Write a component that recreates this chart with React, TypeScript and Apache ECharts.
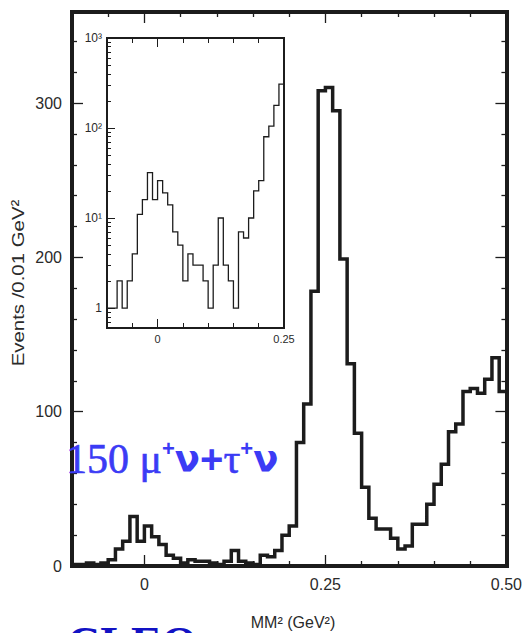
import React, { useEffect, useRef } from "react";
import * as echarts from "echarts";

// Bin lower/upper edges of MM² (GeV²), 0.01 GeV² wide
const BIN_EDGES = [
  -0.1, -0.09, -0.08, -0.07, -0.06, -0.05, -0.04, -0.03, -0.02, -0.01,
  0.0, 0.01, 0.02, 0.03, 0.04, 0.05, 0.06, 0.07, 0.08, 0.09,
  0.1, 0.11, 0.12, 0.13, 0.14, 0.15, 0.16, 0.17, 0.18, 0.19,
  0.2, 0.21, 0.22, 0.23, 0.24, 0.25, 0.26, 0.27, 0.28, 0.29,
  0.3, 0.31, 0.32, 0.33, 0.34, 0.35, 0.36, 0.37, 0.38, 0.39,
  0.4, 0.41, 0.42, 0.43, 0.44, 0.45, 0.46, 0.47, 0.48, 0.49,
  0.5,
];

// Events per bin
const COUNTS = [
  1, 1, 2, 1, 2, 4, 11, 16, 32, 16,
  26, 19, 14, 7, 5, 2, 4, 3, 3, 2,
  1, 3, 10, 3, 2, 1, 7, 6, 10, 20,
  26, 80, 105, 178, 308, 310, 295, 199, 131, 86,
  51, 31, 24, 24, 18, 11, 13, 27, 27, 40,
  53, 66, 87, 92, 113, 115, 112, 121, 135, 113,
];

const INSET_MAX_EDGE = 0.25;

const MAIN_X_MAJOR = [0, 0.25, 0.5];
const MAIN_X_LABELS = ["0", "0.25", "0.50"];
const MAIN_X_MINOR = [-0.05, 0.05, 0.1, 0.15, 0.2, 0.3, 0.35, 0.4, 0.45];
const MAIN_Y_MAJOR = [0, 100, 200, 300];
const MAIN_Y_LABELS = ["0", "100", "200", "300"];
const MAIN_Y_MINOR = [20, 40, 60, 80, 120, 140, 160, 180, 220, 240, 260, 280, 320, 340];

const INSET_X_MAJOR = [0, 0.25];
const INSET_X_LABELS = ["0", "0.25"];
const INSET_X_MINOR = [-0.05, 0.05, 0.1, 0.15, 0.2];
const INSET_Y_MAJOR = [1, 10, 100, 1000];
const INSET_Y_LABELS = ["1", "10¹", "10²", "10³"];
const INSET_Y_MINOR = [
  0.7, 0.8, 0.9, 2, 3, 4, 5, 6, 7, 8, 9, 20, 30, 40, 50, 60, 70, 80, 90,
  200, 300, 400, 500, 600, 700, 800, 900,
];

const INK = "#1c1c1c";
const LABEL = "#2a2a2a";
const BLUE = "#3b3bf5";
const SANS = "Liberation Sans";
const SERIF = "Liberation Serif";

function labelFor(values: number[], labels: string[]) {
  return (v: number) => {
    const i = values.findIndex(
      (x) => Math.abs(x - v) <= 1e-6 * Math.max(1, Math.abs(x))
    );
    return i >= 0 ? labels[i] : "";
  };
}

function makeAxis(o: any) {
  return {
    type: o.type || "value",
    gridIndex: o.grid,
    position: o.position,
    min: o.min,
    max: o.max,
    axisLine: {
      show: !!o.lineWidth,
      onZero: false,
      lineStyle: { color: INK, width: o.lineWidth || 1, cap: "square" },
    },
    axisTick: {
      show: !!o.ticks,
      inside: true,
      length: o.tickLength || 5,
      customValues: o.ticks,
      lineStyle: { color: INK, width: o.tickWidth || 1.3 },
    },
    axisLabel: o.labels
      ? {
          show: true,
          customValues: o.labelValues,
          formatter: labelFor(o.labelValues, o.labels),
          margin: o.margin ?? 8,
          fontSize: o.fontSize || 16,
          fontFamily: SANS,
          color: LABEL,
        }
      : { show: false },
    splitLine: { show: false },
    minorTick: { show: false },
    minorSplitLine: { show: false },
  };
}

export default function App() {
  const ref = useRef<HTMLDivElement>(null);

  useEffect(() => {
    if (!ref.current) return;
    const chart = echarts.init(ref.current, null, { renderer: "svg" });

    const mainPts: number[][] = COUNTS.map((c, i) => [BIN_EDGES[i], c]);
    mainPts.push([BIN_EDGES[COUNTS.length], COUNTS[COUNTS.length - 1]]);

    const nInset = BIN_EDGES.findIndex((e) => e >= INSET_MAX_EDGE - 1e-9);
    const insetPts: number[][] = COUNTS.slice(0, nInset).map((c, i) => [
      BIN_EDGES[i],
      c,
    ]);
    insetPts.push([BIN_EDGES[nInset], COUNTS[nInset - 1]]);

    const xMin = BIN_EDGES[0];
    const xMax = BIN_EDGES[BIN_EDGES.length - 1];

    const option: any = {
      animation: false,
      backgroundColor: "#ffffff",
      textStyle: { fontFamily: SANS },
      grid: [
        { left: 72, top: 12, width: 435, height: 554, containLabel: false },
        { left: 107, top: 38, width: 177, height: 290, containLabel: false },
      ],
      xAxis: [
        makeAxis({ grid: 0, position: "bottom", min: xMin, max: xMax, lineWidth: 4, ticks: MAIN_X_MAJOR, tickLength: 11, labels: MAIN_X_LABELS, labelValues: MAIN_X_MAJOR, margin: 10, fontSize: 16 }),
        makeAxis({ grid: 0, position: "bottom", min: xMin, max: xMax, ticks: MAIN_X_MINOR, tickLength: 5 }),
        makeAxis({ grid: 0, position: "top", min: xMin, max: xMax, lineWidth: 4, ticks: MAIN_X_MAJOR, tickLength: 11 }),
        makeAxis({ grid: 0, position: "top", min: xMin, max: xMax, ticks: MAIN_X_MINOR, tickLength: 5 }),
        makeAxis({ grid: 1, position: "bottom", min: xMin, max: INSET_MAX_EDGE, lineWidth: 2, ticks: INSET_X_MAJOR, tickLength: 9, tickWidth: 1, labels: INSET_X_LABELS, labelValues: INSET_X_MAJOR, margin: 5, fontSize: 11 }),
        makeAxis({ grid: 1, position: "bottom", min: xMin, max: INSET_MAX_EDGE, ticks: INSET_X_MINOR, tickLength: 5, tickWidth: 1 }),
        makeAxis({ grid: 1, position: "top", min: xMin, max: INSET_MAX_EDGE, lineWidth: 2, ticks: INSET_X_MAJOR, tickLength: 9, tickWidth: 1 }),
        makeAxis({ grid: 1, position: "top", min: xMin, max: INSET_MAX_EDGE, ticks: INSET_X_MINOR, tickLength: 5, tickWidth: 1 }),
      ],
      yAxis: [
        makeAxis({ grid: 0, position: "left", min: 0, max: 359, lineWidth: 4, ticks: MAIN_Y_MAJOR, tickLength: 11, labels: MAIN_Y_LABELS, labelValues: MAIN_Y_MAJOR, margin: 10, fontSize: 16 }),
        makeAxis({ grid: 0, position: "left", min: 0, max: 359, ticks: MAIN_Y_MINOR, tickLength: 5 }),
        makeAxis({ grid: 0, position: "right", min: 0, max: 359, lineWidth: 4, ticks: MAIN_Y_MAJOR, tickLength: 11 }),
        makeAxis({ grid: 0, position: "right", min: 0, max: 359, ticks: MAIN_Y_MINOR, tickLength: 5 }),
        makeAxis({ type: "log", grid: 1, position: "left", min: 0.6, max: 1000, lineWidth: 2, ticks: INSET_Y_MAJOR, tickLength: 8, tickWidth: 1, labels: INSET_Y_LABELS, labelValues: INSET_Y_MAJOR, margin: 5, fontSize: 12 }),
        makeAxis({ type: "log", grid: 1, position: "left", min: 0.6, max: 1000, ticks: INSET_Y_MINOR, tickLength: 4, tickWidth: 1 }),
        makeAxis({ type: "log", grid: 1, position: "right", min: 0.6, max: 1000, lineWidth: 2 }),
      ],
      series: [
        {
          type: "line",
          xAxisIndex: 0,
          yAxisIndex: 0,
          step: "end",
          symbol: "none",
          data: mainPts,
          lineStyle: { color: INK, width: 3.5, join: "miter" },
          z: 3,
        },
        {
          type: "line",
          xAxisIndex: 4,
          yAxisIndex: 4,
          step: "end",
          symbol: "none",
          data: insetPts,
          lineStyle: { color: INK, width: 1.3, join: "miter" },
          z: 3,
        },
      ],
      graphic: [
        {
          type: "text",
          x: 18,
          y: 283,
          rotation: Math.PI / 2,
          scaleX: 1.2,
          style: {
            text: "Events /0.01 GeV²",
            fontSize: 17,
            fontFamily: SANS,
            fill: LABEL,
            align: "center",
            verticalAlign: "middle",
            textAlign: "center",
            textVerticalAlign: "middle",
          },
        },
        {
          type: "text",
          x: 293,
          y: 622,
          style: {
            text: "MM² (GeV²)",
            fontSize: 16,
            fontFamily: SANS,
            fill: LABEL,
            align: "center",
            verticalAlign: "middle",
            textAlign: "center",
            textVerticalAlign: "middle",
          },
        },
        {
          type: "text",
          x: 66,
          y: 437,
          z: 10,
          style: {
            text: "{n|150 μ}{p|+}{v|ν}{b|+}{t|τ}{p|+}{v|ν}",
            align: "left",
            verticalAlign: "top",
            textAlign: "left",
            textVerticalAlign: "top",
            fill: BLUE,
            rich: {
              n: { fontFamily: SERIF, fontSize: 42, lineHeight: 44, fill: BLUE, verticalAlign: "middle", stroke: BLUE, lineWidth: 0.6 },
              t: { fontFamily: SERIF, fontSize: 42, lineHeight: 44, fill: BLUE, verticalAlign: "middle", stroke: BLUE, lineWidth: 0.6 },
              v: { fontFamily: "DejaVu Sans", fontWeight: "bold", fontSize: 37, lineHeight: 44, fill: BLUE, verticalAlign: "middle" },
              b: { fontFamily: SANS, fontWeight: "bold", fontSize: 40, lineHeight: 44, fill: BLUE, verticalAlign: "middle" },
              p: { fontFamily: SANS, fontWeight: "bold", fontSize: 22, lineHeight: 38, fill: BLUE, verticalAlign: "top" },
            },
          },
        },
        {
          type: "text",
          x: 67,
          y: 620,
          style: {
            text: "CLEO",
            fontSize: 46,
            fontWeight: "bold",
            fontFamily: SERIF,
            fill: "#1212c4",
            align: "left",
            verticalAlign: "top",
            textAlign: "left",
            textVerticalAlign: "top",
          },
        },
      ],
    };

    chart.setOption(option);
    return () => chart.dispose();
  }, []);

  return (
    <div
      ref={ref}
      style={{ position: "absolute", left: 0, top: 0, width: 525, height: 633, background: "#fff" }}
    />
  );
}
